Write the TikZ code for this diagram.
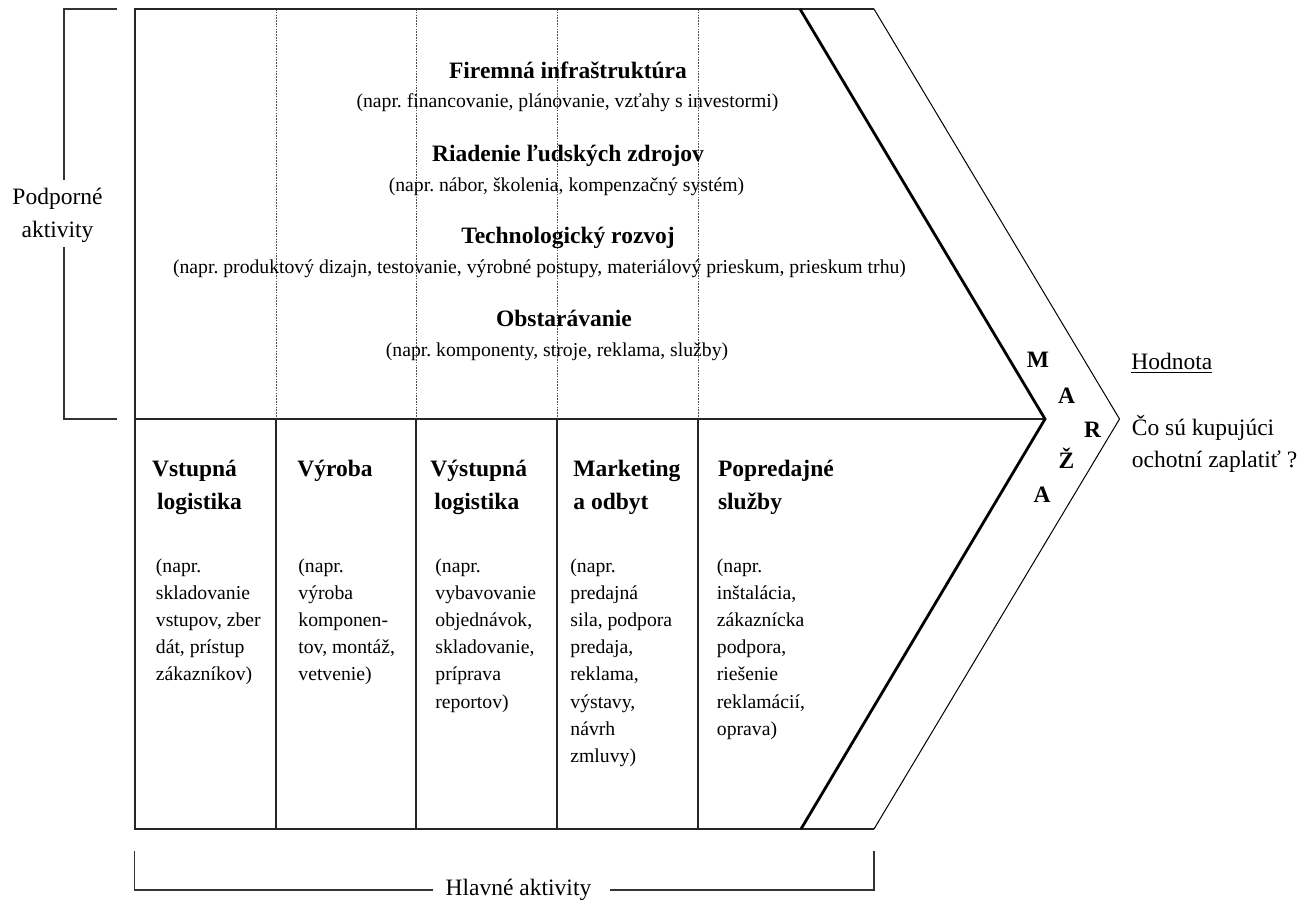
\documentclass[tikz,border=0pt]{standalone}
\usepackage{fontspec}
\setmainfont{Liberation Serif}
\frenchspacing
\begin{document}
\begin{tikzpicture}[x=0.5pt,y=-0.5pt,
  body/.style={font=\fontsize{9.85}{13.6}\selectfont\frenchspacing, inner sep=0pt, align=left, anchor=base west},
  head/.style={font=\fontsize{11.75}{16.5}\selectfont\bfseries, inner sep=0pt, align=left, anchor=base west},
  tophead/.style={font=\fontsize{11.75}{16.5}\selectfont\bfseries, inner sep=0pt, anchor=base},
  topbody/.style={font=\fontsize{9.85}{13.6}\selectfont\frenchspacing, inner sep=0pt, anchor=base},
  side/.style={font=\fontsize{11.75}{16.5}\selectfont, inner sep=0pt},
  letter/.style={font=\fontsize{11.75}{16.5}\selectfont\bfseries, inner sep=0pt, anchor=base},
  boxline/.style={line width=0.75pt, draw=black!85},
  bracket/.style={line width=0.65pt, draw=black!80},
  guide/.style={line width=0.3pt, draw=black!70, dash pattern=on 0.8pt off 0.6pt},
  edge/.style={line width=1.4pt, draw=black},
  outer/.style={line width=0.5pt, draw=black}]
\useasboundingbox (0,0) rectangle (1315,906);

% frame corners
\coordinate (tl) at (135,9);
\coordinate (ml) at (135,419);
\coordinate (bl) at (135,829);
\coordinate (ti) at (800,9);
\coordinate (tip) at (1045,419);
\coordinate (bi) at (801,829);
\coordinate (to) at (874,9);
\coordinate (tipo) at (1119.5,419);
\coordinate (bo) at (874,829);

% dotted guides in the support area
\foreach \x in {276,416,557,698}
  \draw[guide] (\x,9) -- (\x,419);

% primary activity column dividers
\foreach \x in {276,416,557,698}
  \draw[boxline] (\x,419) -- (\x,829);

% frame
\draw[boxline] (to) -- (tl) -- (bl) -- (bo);
\draw[boxline] (ml) -- (tip);
\draw[edge] (ti) -- (tip) -- (bi);
\draw[outer] (to) -- (tipo) -- (bo);

% support activities
\node[tophead] (inf) at (568,78) {Firemná infraštruktúra};
\node[topbody] (infd) at (567.5,107) {(napr. financovanie, plánovanie, vzťahy s investormi)};
\node[tophead] (hr) at (568,161) {Riadenie ľudských zdrojov};
\node[topbody] (hrd) at (566.5,191) {(napr. nábor, školenia, kompenzačný systém)};
\node[tophead] (tech) at (568,243) {Technologický rozvoj};
\node[topbody] (techd) at (539.5,273) {(napr. produktový dizajn, testovanie, výrobné postupy, materiálový prieskum, prieskum trhu)};
\node[tophead] (proc) at (564,326) {Obstarávanie};
\node[topbody] (procd) at (557,356) {(napr. komponenty, stroje, reklama, služby)};

% primary activities (multi-line nodes sit on their last baseline)
\node[head] (c1) at (151.7,509) {Vstupná\\\hspace*{2.5pt}logistika};
\node[body] (c1d) at (155.5,680.8) {(napr.\\skladovanie\\vstupov, zber\\dát, prístup\\zákazníkov)};
\node[head] (c2) at (297,476) {Výroba};
\node[body] (c2d) at (298,680.8) {(napr.\\výroba\\komponen-\\tov, montáž,\\vetvenie)};
\node[head] (c3) at (430,509) {Výstupná\\\hspace*{2pt}logistika};
\node[body] (c3d) at (435,708) {(napr.\\vybavovanie\\objednávok,\\skladovanie,\\príprava\\reportov)};
\node[head] (c4) at (573,509) {Marketing\\a odbyt};
\node[body] (c4d) at (570,762.4) {(napr.\\predajná\\sila, podpora\\predaja,\\reklama,\\výstavy,\\návrh\\zmluvy)};
\node[head] (c5) at (717.6,509) {Popredajné\\služby};
\node[body] (c5d) at (716.5,735.2) {(napr.\\inštalácia,\\zákaznícka\\podpora,\\riešenie\\reklamácií,\\oprava)};

% margin letters
\node[letter] (m1) at (1038,367) {M};
\node[letter] (m2) at (1066.5,403) {A};
\node[letter] (m3) at (1092.5,437) {R};
\node[letter] (m4) at (1066.5,468) {Ž};
\node[letter] (m5) at (1042,502) {A};

% value
\node[side, anchor=base west] (val) at (1131,369) {\underline{Hodnota}};
\node[side, anchor=base west, align=left, font=\fontsize{11.75}{16}\selectfont] (ask) at (1131.5,467) {Čo sú kupujúci\\ochotní zaplatiť ?};

% side brackets
\node[side, anchor=base, align=center] (support) at (57.5,237) {Podporné\\aktivity};
\draw[bracket] (117,9) -- (64,9) -- (64,180);
\draw[bracket] (64,247) -- (64,419) -- (117,419);

\node[side, anchor=base] (primary) at (518.5,895) {Hlavné aktivity};
\draw[bracket] (433,890) -- (134.3,890) -- (134.3,851);
\draw[bracket] (610,890) -- (874,890) -- (874,851);
\end{tikzpicture}
\end{document}
